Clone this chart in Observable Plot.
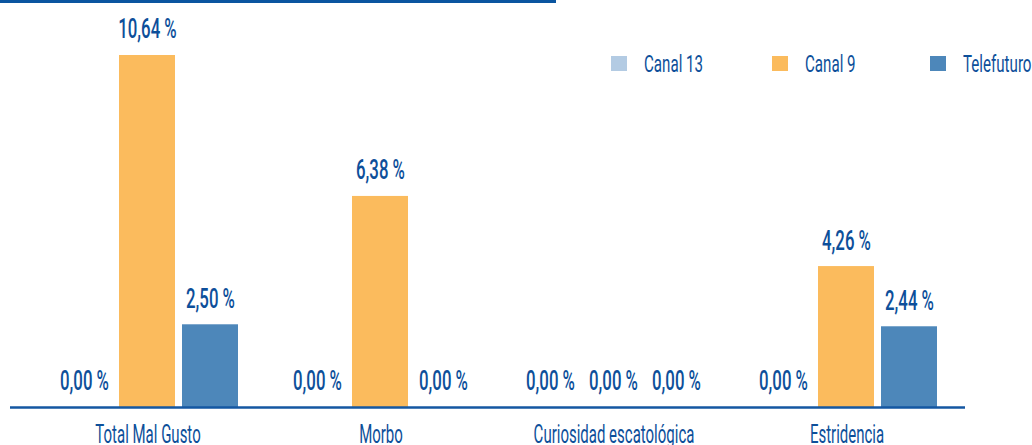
<!DOCTYPE html>
<html>
<head>
<meta charset="utf-8">
<script src="https://cdn.jsdelivr.net/npm/d3@7"></script>
<script src="https://cdn.jsdelivr.net/npm/@observablehq/plot@0.6"></script>
<style>
  html, body { margin: 0; padding: 0; background: #fff; }
  #wrap { position: relative; width: 1032px; height: 445px; overflow: hidden; font-family: Roboto, 'Liberation Sans', sans-serif; }
  #topline { position: absolute; left: 0; top: 0; width: 556px; height: 3px; background: #0a55a0; }
  .leg { position: absolute; top: 56px; height: 15px; display: flex; align-items: center; font-size: 24px; color: #0d4f9a; white-space: nowrap; }
  .leg .sw { width: 16px; height: 15px; margin-right: 17px; flex: none; }
  .leg .tx { display: inline-block; transform: scaleX(0.63); transform-origin: left center; }
</style>
</head>
<body>
<div id="wrap"><div id="topline"></div></div>
<script>
const categories = ["Total Mal Gusto", "Morbo", "Curiosidad escatológica", "Estridencia"];
const series = ["Canal 13", "Canal 9", "Telefuturo"];
const canal13 = [0.00, 0.00, 0.00, 0.00];
const canal9 = [10.64, 6.38, 0.00, 4.26];
const telefuturo = [2.50, 0.00, 0.00, 2.44];
const colors = ["#b3cbe3", "#fbbb5d", "#4d87ba"];
const legendLeft = [611, 772, 930];

const textColor = "#0d4f9a";
const seriesValues = [canal13, canal9, telefuturo];
const rows = [];
categories.forEach((c, i) => series.forEach((s, j) => rows.push({cat: c, series: s, value: seriesValues[j][i]})));
const fmt = v => v.toFixed(2).replace(".", ",") + " %";
const base = categories.map(c => ({cat: c, y: 0}));

const chart = Plot.plot({
  width: 1032,
  height: 445,
  marginTop: 55,
  marginBottom: 38,
  marginLeft: 30,
  marginRight: 68,
  style: {fontFamily: "Roboto, 'Liberation Sans', sans-serif", background: "transparent"},
  fx: {domain: categories, padding: 0, label: null},
  x: {domain: series, paddingInner: 7 / 64, paddingOuter: 0.379, axis: null},
  y: {domain: [0, 10.64], axis: null},
  color: {domain: series, range: colors},
  marks: [
    Plot.barY(rows, {fx: "cat", x: "series", y: "value", fill: "series"}),
    Plot.ruleY(base.slice(0, 1), {fx: "cat", y: "y", stroke: "#1457a2", strokeWidth: 2.5, insetLeft: -21}),
    Plot.ruleY(base.slice(1, 3), {fx: "cat", y: "y", stroke: "#1457a2", strokeWidth: 2.5}),
    Plot.ruleY(base.slice(3), {fx: "cat", y: "y", stroke: "#1457a2", strokeWidth: 2.5, insetRight: -2}),
    Plot.text(rows, {fx: "cat", x: "series", y: "value", text: d => fmt(d.value), dy: -26, fill: textColor, fontSize: 28, fontWeight: 500}),
    Plot.axisFx({anchor: "bottom", tickSize: 0, tickPadding: 18, fontSize: 25, color: textColor, label: null})
  ]
});
// condense the glyphs horizontally (the reference uses a condensed face)
chart.querySelectorAll("text").forEach(t => {
  const g = t.closest("g[aria-label]");
  const isAxis = g && /axis/.test(g.getAttribute("aria-label"));
  const k = isAxis ? 0.6 : 0.6;
  const tr = t.getAttribute("transform") || "";
  t.setAttribute("transform", (tr + ` scale(${k},1)`).trim());
});
const wrap = document.getElementById("wrap");
wrap.appendChild(chart);
series.forEach((s, j) => {
  const d = document.createElement("div");
  d.className = "leg";
  d.style.left = legendLeft[j] + "px";
  const sw = document.createElement("span");
  sw.className = "sw";
  sw.style.background = colors[j];
  d.appendChild(sw);
  const tx = document.createElement("span");
  tx.className = "tx";
  tx.textContent = s;
  d.appendChild(tx);
  wrap.appendChild(d);
});
</script>
</body>
</html>
